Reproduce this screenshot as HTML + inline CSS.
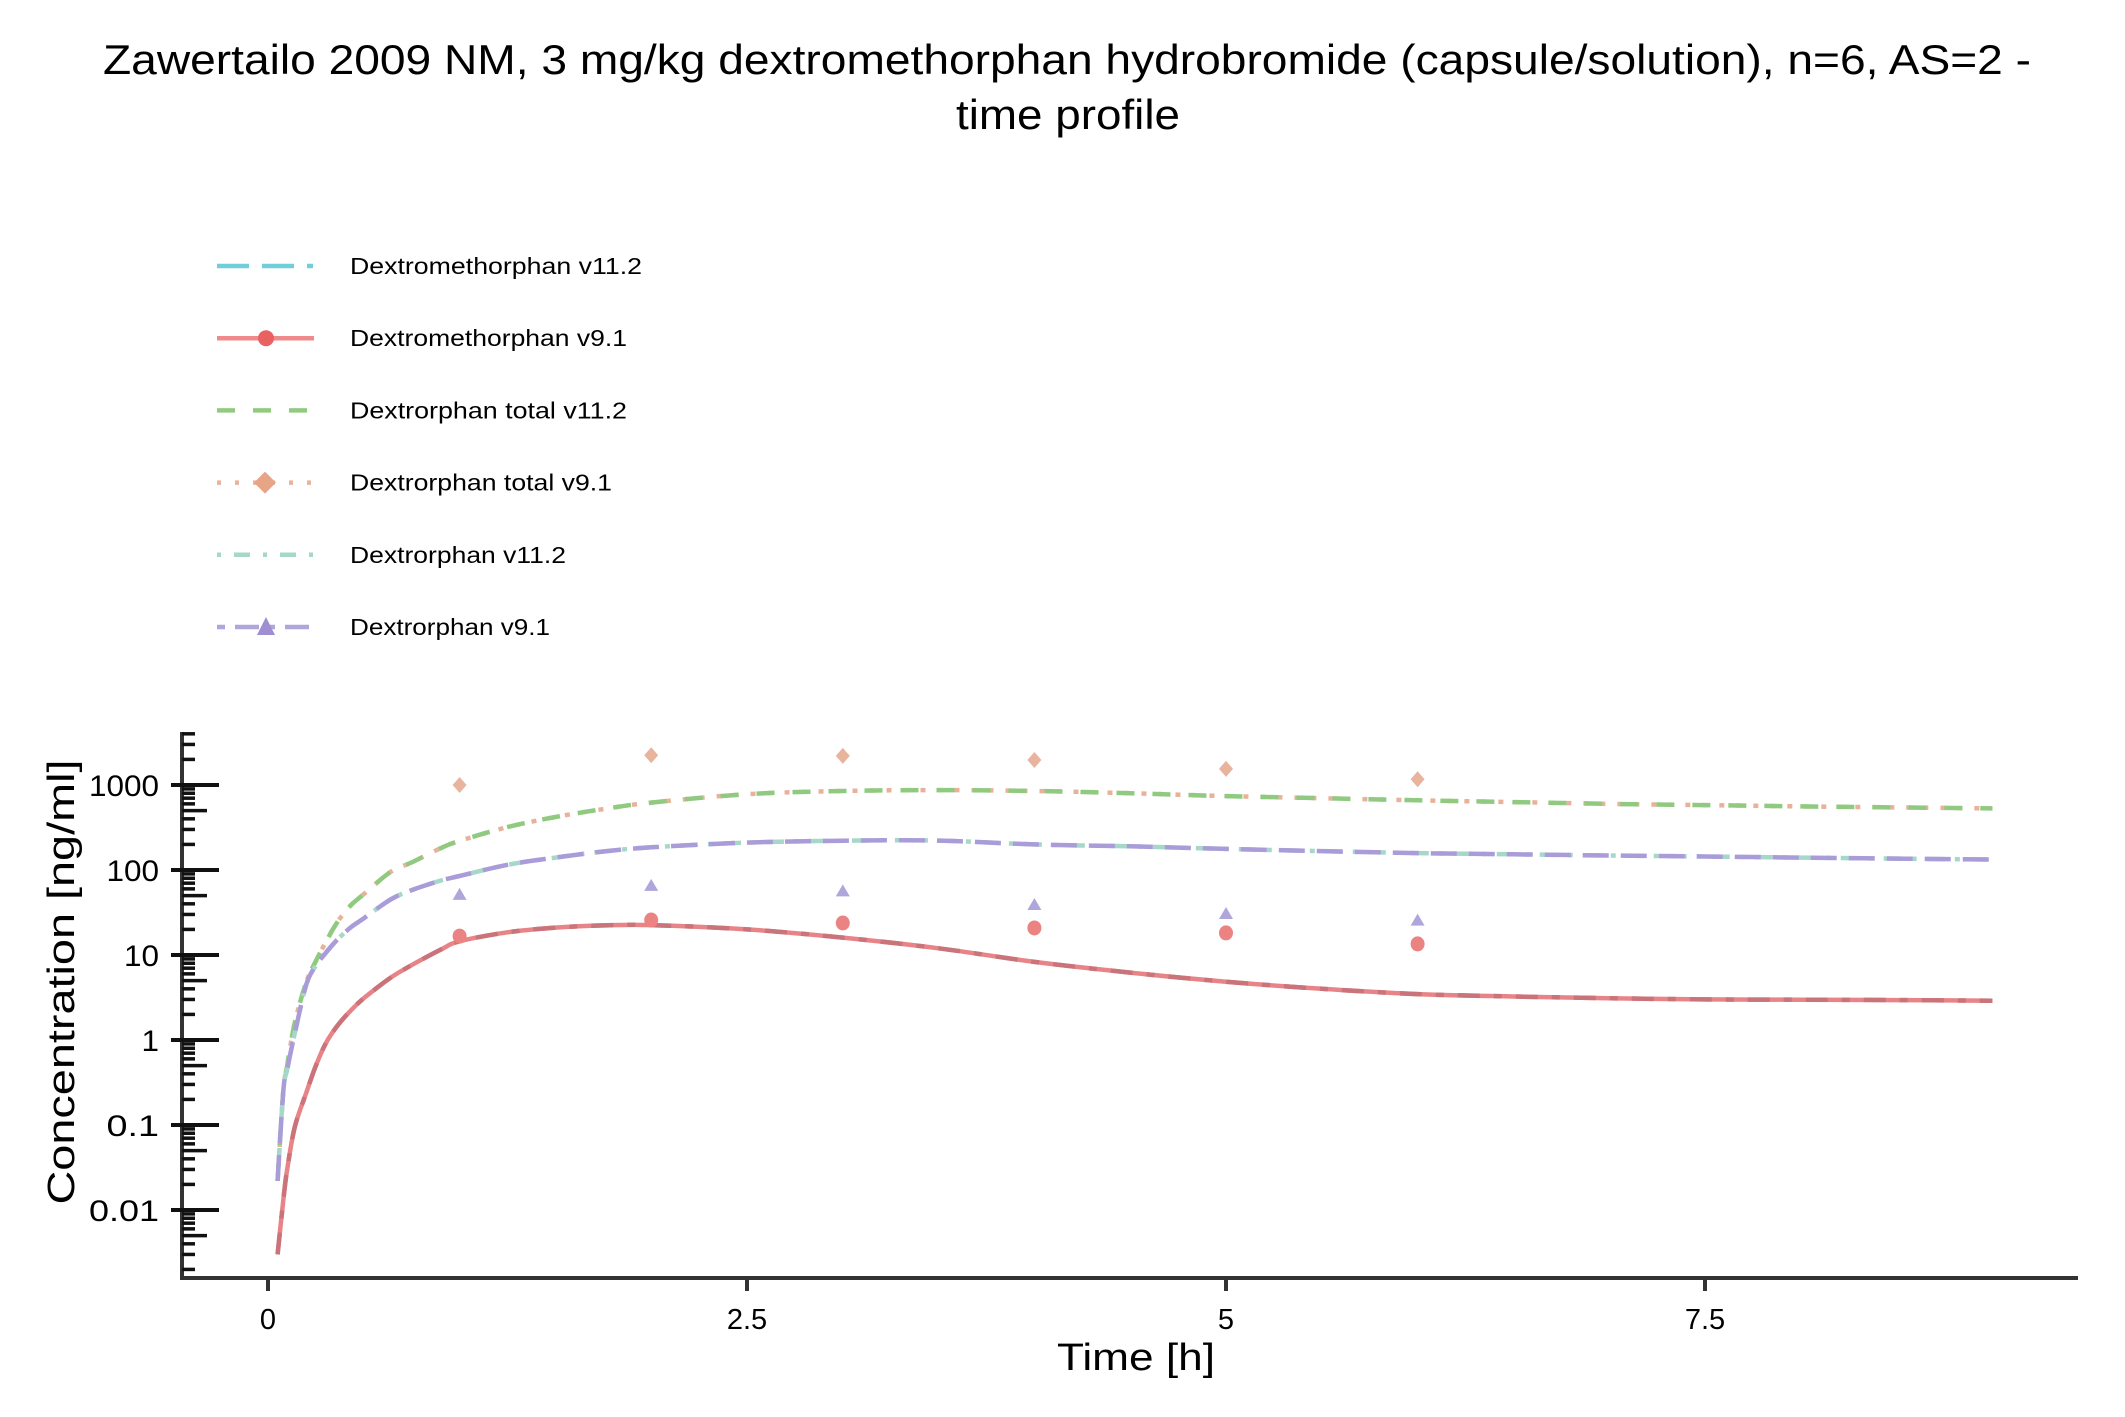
<!DOCTYPE html>
<html><head><meta charset="utf-8"><style>
html,body{margin:0;padding:0;background:#fff;}
svg{display:block;font-family:"Liberation Sans",sans-serif;}
</style></head><body>
<svg id="chart" width="2125" height="1417" viewBox="0 0 2125 1417" xmlns="http://www.w3.org/2000/svg">
<text x="1067" y="74" font-size="42" text-anchor="middle" textLength="1928" lengthAdjust="spacingAndGlyphs" fill="#000">Zawertailo 2009 NM, 3 mg/kg dextromethorphan hydrobromide (capsule/solution), n=6, AS=2 -</text>
<text x="1068" y="129" font-size="42" text-anchor="middle" textLength="224" lengthAdjust="spacingAndGlyphs" fill="#000">time profile</text>
<g id="legend"></g>
<g id="axes"></g>
<g id="series"></g>
<text x="1136" y="1370" font-size="38" text-anchor="middle" textLength="158" lengthAdjust="spacingAndGlyphs">Time [h]</text>
<text transform="translate(74,982) rotate(-90)" font-size="38" text-anchor="middle" textLength="445" lengthAdjust="spacingAndGlyphs">Concentration [ng/ml]</text>
</svg>
<script>
const simTime = [0.05,0.08,0.1,0.14,0.2,0.25,0.3,0.36,0.43,0.5,0.64,0.75,0.9,1,1.25,1.5,1.75,2,2.5,3,3.5,4,4.5,5,5.5,6,6.5,7,7.5,8,8.5,9];
const dxmSim = [0.003,0.013,0.03,0.095,0.24,0.5,0.9,1.45,2.2,3.1,5.4,7.6,11.5,14.5,18.5,21,22.3,22.5,20,16,12,8.3,6.2,4.85,4,3.47,3.25,3.1,3.0,2.98,2.95,2.9];
const dxoTotalSim = [0.022,0.25,0.5,1.6,4.8,8.5,14,24,38,52,95,123,180,220,320,420,520,620,780,850,870,850,800,740,700,660,630,600,580,560,545,530];
const dxoSim = [0.022,0.25,0.45,1.2,4.5,7.5,10.5,15,21,27,45,58,75,85,115,140,165,185,210,221,222,200,190,177,167,158,153,148,144,140,136,133];
const obsTime = [1,2,3,4,5,6];
const dxmObs = [16.7,25.8,23.8,20.8,18.2,13.5];
const dxoTotalObs = [1000,2240,2200,1970,1550,1170];
const dxoObs = [51,65,56,38.7,30.4,25.4];
const xTicks = [0,2.5,5,7.5];
const xTickLabels = ["0","2.5","5","7.5"];
const yTicks = [0.01,0.1,1,10,100,1000];
const yTickLabels = ["0.01","0.1","1","10","100","1000"];
const legendLabels = ["Dextromethorphan v11.2","Dextromethorphan v9.1","Dextrorphan total v11.2","Dextrorphan total v9.1","Dextrorphan v11.2","Dextrorphan v9.1"];

const NS="http://www.w3.org/2000/svg";
function xs(t){return 268+t*191.6;}
function ys(v){return 1040-85*Math.log10(v);}
function mk(tag,attrs,parent){const e=document.createElementNS(NS,tag);for(const k in attrs)e.setAttribute(k,attrs[k]);parent.appendChild(e);return e;}
const axes=document.getElementById('axes'), series=document.getElementById('series'), legend=document.getElementById('legend');

let e;
e=mk('line',{x1:182,y1:732,x2:182,y2:1280,stroke:'#333','stroke-width':4},axes);


e=mk('line',{x1:180,y1:1278,x2:2078,y2:1278,stroke:'#333','stroke-width':4},axes);


xTicks.forEach((t,i)=>{
  e=mk('line',{x1:xs(t),y1:1278,x2:xs(t),y2:1291,stroke:'#333','stroke-width':4},axes);
  
  
  e=mk('text',{x:xs(t),y:1329,'font-size':29,'text-anchor':'middle'},axes);
  e.textContent=xTickLabels[i];
  
  
});
yTicks.forEach((v,i)=>{
  e=mk('line',{x1:171,y1:ys(v),x2:219,y2:ys(v),stroke:'#111','stroke-width':4},axes);
  
  
  e=mk('text',{x:159,y:ys(v)+11,'font-size':30,'text-anchor':'end','textLength':yTickLabels[i].length*17.5,lengthAdjust:'spacingAndGlyphs'},axes);
  e.textContent=yTickLabels[i];
  
  
});
[0.001,0.01,0.1,1,10,100,1000].forEach(d=>{
  for(let m=2;m<=9;m++){
    const v=d*m, y=ys(v);
    if(y<733||y>1276) continue;
    e=mk('line',{x1:182,y1:y,x2:m===5?207:195,y2:y,stroke:'#111','stroke-width':3.5},axes);
    
    
  }
});

function path(ts,vs){
  const p=ts.map((t,i)=>[xs(t),ys(vs[i])]);
  let d='M'+p[0][0].toFixed(1)+','+p[0][1].toFixed(1);
  for(let i=0;i<p.length-1;i++){
    const p0=p[Math.max(0,i-1)],p1=p[i],p2=p[i+1],p3=p[Math.min(p.length-1,i+2)];
    const c1=[p1[0]+(p2[0]-p0[0])/6,p1[1]+(p2[1]-p0[1])/6];
    const c2=[p2[0]-(p3[0]-p1[0])/6,p2[1]-(p3[1]-p1[1])/6];
    d+=' C'+c1[0].toFixed(1)+','+c1[1].toFixed(1)+' '+c2[0].toFixed(1)+','+c2[1].toFixed(1)+' '+p2[0].toFixed(1)+','+p2[1].toFixed(1);
  }
  return d;
}
const lines=[
 {v:dxmSim,c:'#e88487',d:'',n:'dextromethorphan-v9-line'},
 {v:dxmSim,c:'#c9737a',d:'22 14 8 14',n:'dextromethorphan-v11-line'},
 {v:dxoTotalSim,c:'#e8b29a',d:'5 12',n:'dextrorphan-total-v9-line'},
 {v:dxoTotalSim,c:'#8fca80',d:'18 18',n:'dextrorphan-total-v11-line'},
 {v:dxoSim,c:'#a6d8ca',d:'5 10 18 10',n:'dextrorphan-v11-line'},
 {v:dxoSim,c:'#a99cd8',d:'26 12',n:'dextrorphan-v9-line'}
];
lines.forEach(l=>{
  e=mk('path',{d:path(simTime,l.v),fill:'none',stroke:l.c,'stroke-width':4.5,'stroke-dasharray':l.d},series);
  
  
});
obsTime.forEach((t,i)=>{
  const x=xs(t);
  let y=ys(dxoTotalObs[i]);
  e=mk('path',{d:`M${x},${y-8} L${x+7},${y} L${x},${y+8} L${x-7},${y} Z`,fill:'#e8b49e'},series);
  
  
  y=ys(dxoObs[i]);
  e=mk('path',{d:`M${x},${y-7} L${x+7},${y+5} L${x-7},${y+5} Z`,fill:'#b0a6dc'},series);
  
  
  y=ys(dxmObs[i]);
  e=mk('ellipse',{cx:x,cy:y,rx:7,ry:7.5,fill:'#ec8383'},series);
  
  
});

const legStyles=[
 {c:'#72cfd8',d:'32 13 32 13 6 20'},{c:'#ee8a8a',d:''},{c:'#92cb80',d:'18 18'},
 {c:'#eab49c',d:'4 14'},{c:'#a6d8ca',d:'4 13 16 13'},{c:'#b0a6dc',d:'8 10 24 8'}
];
legendLabels.forEach((lab,i)=>{
  const y=266+72.2*i, s=legStyles[i];
  e=mk('line',{x1:217,y1:y,x2:314,y2:y,stroke:s.c,'stroke-width':4.5,'stroke-dasharray':s.d},legend);
  
  
  if(i===1){e=mk('circle',{cx:266,cy:y,r:8,fill:'#e86262'},legend);}
  if(i===3){e=mk('path',{d:`M265,${y-11} L276,${y} L265,${y+11} L254,${y} Z`,fill:'#e8a486'},legend);}
  if(i===5){e=mk('path',{d:`M266,${y-10} L275,${y+8} L257,${y+8} Z`,fill:'#9f8ed0'},legend);}
  const w=[292,277,277,262,216,200][i];
  e=mk('text',{x:350,y:y+8,'font-size':23,textLength:w,lengthAdjust:'spacingAndGlyphs'},legend);
  e.textContent=lab;
  
  
});
</script>
</body></html>
